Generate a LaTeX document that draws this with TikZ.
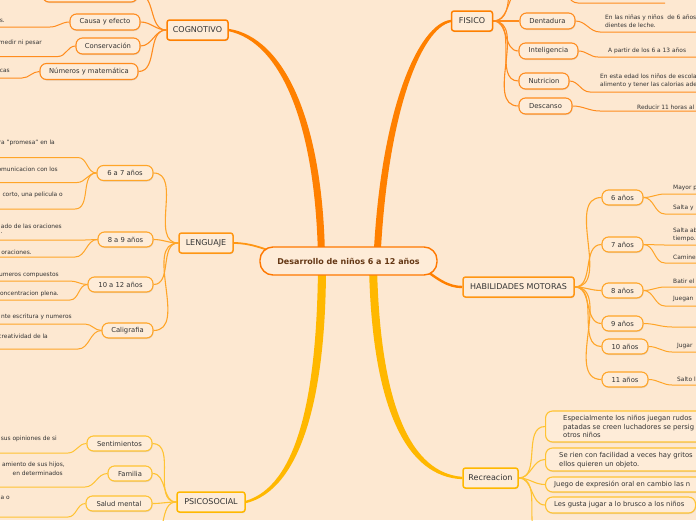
\documentclass[tikz,border=0pt]{standalone}
\usepackage{fontspec}
\setmainfont{DejaVu Sans}
\usetikzlibrary{shadows}
\pgfdeclarelayer{bglayer}
\pgfdeclarelayer{edgelayer}
\pgfsetlayers{bglayer,edgelayer,main}
\definecolor{bgc}{RGB}{253,232,209}
\definecolor{boxfill}{RGB}{254,236,216}
\definecolor{txt}{RGB}{51,51,51}
\definecolor{ctxt}{RGB}{100,55,20}
\definecolor{corange}{RGB}{255,120,0}
\definecolor{o1}{RGB}{255,128,0}
\definecolor{o2}{RGB}{255,140,30}
\definecolor{o3}{RGB}{255,150,20}
\definecolor{o4}{RGB}{255,165,40}
\definecolor{y1}{RGB}{255,184,0}
\definecolor{y2}{RGB}{255,195,50}
\begin{document}
\begin{tikzpicture}[x=1pt,y=-1pt,
  shad/.style={drop shadow={shadow xshift=0.5pt, shadow yshift=-1pt, opacity=0.22}},
  central/.style={draw=corange, line width=1.4pt, rounded corners=13pt, fill=boxfill, text=ctxt,
    font=\fontsize{8}{10}\selectfont\bfseries, minimum width=177pt, minimum height=28pt, inner sep=0pt},
  mainbox/.style={draw, line width=1.5pt, rounded corners=2.5pt, fill=boxfill, text=txt,
    font=\fontsize{8}{10}\selectfont, minimum height=20pt, inner sep=0pt, shad},
  subbox/.style={draw, line width=1.1pt, rounded corners=6.5pt, fill=boxfill, text=txt,
    font=\fontsize{6.8}{8}\selectfont, minimum height=15pt, inner sep=0pt, shad},
  rbox/.style={draw=y2, line width=1.1pt, rounded corners=7pt, fill=boxfill, anchor=west, inner sep=0pt, shad},
  rtext/.style={anchor=west, align=left, text=txt, font=\fontsize{6.8}{8.3}\selectfont, inner sep=0pt},
  leafL/.style={anchor=east, text=txt, font=\fontsize{5.9}{7.3}\selectfont, inner sep=0pt},
  leafR/.style={anchor=west, align=left, text=txt, font=\fontsize{5.9}{7.6}\selectfont, inner sep=0pt},
  conn/.style={line width=1.1pt},
  leafline/.style={line width=1pt}]
\useasboundingbox (0,0) rectangle (696,520);
\begin{pgfonlayer}{bglayer}
\fill[bgc] (0,0) rectangle (696,520);
\end{pgfonlayer}

% central and main nodes
\node[central] (c) at (348.5,261) {Desarrollo de niños 6 a 12 años};
\node[mainbox, draw=o1, minimum width=61pt] (cog) at (197.5,30) {COGNOTIVO};
\node[mainbox, draw=o1, minimum width=41pt] (fis) at (472,21) {FISICO};
\node[mainbox, draw=o3, minimum width=54pt] (len) at (206,243) {LENGUAJE};
\node[mainbox, draw=o3, minimum width=111pt] (hab) at (518.5,287) {HABILIDADES MOTORAS};
\node[mainbox, draw=y1, minimum width=68pt] (psi) at (211,502) {PSICOSOCIAL};
\node[mainbox, draw=y1, minimum width=55pt] (rec) at (490.5,478) {Recreacion};

% COGNOTIVO children
\node[subbox, draw=o2, minimum width=95pt, minimum height=16pt] (cogtop) at (90,-6) {};
\node[subbox, draw=o2, minimum width=70pt, minimum height=16pt] (causa) at (105,22) {Causa y efecto};
\node[subbox, draw=o2, minimum width=64pt, minimum height=16pt] (cons) at (108,46) {Conservación};
\node[subbox, draw=o2, minimum width=98pt, minimum height=16pt] (num) at (89,71.5) {Números y matemática};
\node[leafL] (l1) at (5,21) {s.};
\node[leafL] (l2) at (42,43) {medir ni pesar};
\node[leafL] (l3) at (10,71) {cas};

% LENGUAJE children
\node[subbox, draw=o4, minimum width=56pt] (l67) at (125,173) {6 a 7 años};
\node[subbox, draw=o4, minimum width=55pt] (l89) at (125.5,239.5) {8 a 9 años};
\node[subbox, draw=o4, minimum width=65pt] (l1012) at (120.5,284.5) {10 a 12 años};
\node[subbox, draw=o4, minimum width=51pt] (cali) at (127.5,330.5) {Caligrafia};
\node[leafL] (t1) at (55,143) {ra "promesa" en la};
\node[leafL] (t2) at (58,169) {omunicacion con los};
\node[leafL] (t3) at (63,195) {corto, una pelicula o};
\node[leafL] (t4) at (62,226) {ado de las oraciones};
\node[leafL] (t4b) at (3,233) {.};
\node[leafL] (t5) at (32,252) {oraciones.};
\node[leafL] (t6) at (59,275) {umeros compuestos};
\node[leafL] (t7) at (59,294) {oncentracion plena.};
\node[leafL] (t8) at (72,317) {nte escritura y numeros};
\node[leafL] (t9) at (48,336) {creatividad de la};

% PSICOSOCIAL children
\node[subbox, draw=y2, minimum width=65pt] (sent) at (119.5,443.5) {Sentimientos};
\node[subbox, draw=y2, minimum width=44pt] (fam) at (130,473.5) {Familia};
\node[subbox, draw=y2, minimum width=66pt] (salud) at (119,503.5) {Salud mental};
\node[leafL] (p1) at (57,439) {sus opiniones de si};
\node[leafL] (p2) at (65,465) {amiento de sus hijos,};
\node[leafL] (p3) at (63,473) {en determinados};
\node[leafL] (p4) at (10,498) {a o};
\coordinate (psiD) at (150,540);

% FISICO children
\coordinate (fisA) at (525,-14);
\coordinate (fisB) at (525,-45);
\coordinate (fisAe) at (556,-12);
\node[subbox, draw=o2, minimum width=55pt, minimum height=16pt] (dent) at (547.5,21) {Dentadura};
\node[subbox, draw=o2, minimum width=59pt, minimum height=16pt] (intel) at (548.5,51) {Inteligencia};
\node[subbox, draw=o2, minimum width=50pt, minimum height=16pt] (nutr) at (544,81) {Nutricion};
\node[subbox, draw=o2, minimum width=53pt, minimum height=16pt] (desc) at (545.5,106) {Descanso};
\node[leafR] (f1) at (605,21.5) {En las niñas y niños \ de 6 años\\dientes de leche.};
\node[leafR] (f2) at (608,51) {A partir de los 6 a 13 años};
\node[leafR] (f3) at (600,81) {En esta edad los niños de escola\\alimento y tener las calorias ade};
\node[leafR] (f4) at (637,107) {Reducir 11 horas al};

% HABILIDADES children
\node[subbox, draw=o4, minimum width=41pt] (h6) at (622.5,197.5) {6 años};
\node[subbox, draw=o4, minimum width=41pt] (h7) at (622.5,244.5) {7 años};
\node[subbox, draw=o4, minimum width=41pt] (h8) at (622.5,290.5) {8 años};
\node[subbox, draw=o4, minimum width=41pt] (h9) at (622.5,323.5) {9 años};
\node[subbox, draw=o4, minimum width=46pt] (h10) at (625,346.5) {10 años};
\node[subbox, draw=o4, minimum width=46pt] (h11) at (625,379.5) {11 años};
\node[leafR] (m1) at (673,188) {Mayor p};
\node[leafR] (m2) at (673,208) {Salta y};
\node[leafR] (m3) at (673,235) {Salta ab\\tiempo.};
\node[leafR] (m4) at (673,257) {Camine};
\node[leafR] (m5) at (673,281) {Batir el};
\node[leafR] (m6) at (673,299) {Juegan};
\node[leafR] (m7) at (677,346) {Jugar};
\node[leafR] (m8) at (677,379) {Salto l};

% Recreacion children
\node[rbox, minimum width=170pt, minimum height=31pt] (r1) at (545,426.5) {};
\node[rtext] (r1t) at (563,426.5) {Especialmente los niños juegan rudos\\patadas se creen luchadores se persig\\otros niños};
\node[rbox, minimum width=170pt, minimum height=23pt] (r2) at (545,459.5) {};
\node[rtext] (r2t) at (559,460) {Se rien con facilidad a veces hay gritos\\ellos quieren un objeto.};
\node[rbox, minimum width=170pt, minimum height=15pt] (r3) at (545,484.5) {};
\node[rtext] (r3t) at (554,484.5) {Juego de expresión oral en cambio las n};
\node[rbox, minimum width=150pt, minimum height=16pt] (r4) at (545,505) {};
\node[rtext] (r4t) at (554,505) {Les gusta jugar a lo brusco a los niños};
\coordinate (recE) at (545,540);

\begin{pgfonlayer}{edgelayer}
% main branches
\fill[o1] ([yshift=1.2pt]cog.east) .. controls (284,37.5) and (323,120) .. (325,258) -- (318,258) .. controls (315.5,122) and (280,42) .. ([yshift=-1.2pt]cog.east) -- cycle;
\fill[o1] ([yshift=1.2pt]fis.west) .. controls (418,24) and (380.5,110) .. (373.5,258) -- (380.5,258) .. controls (387.5,110) and (422,28) .. ([yshift=-1.2pt]fis.west) -- cycle;
\fill[y1] (318,266) .. controls (317,400) and (296,486) .. ([yshift=1.2pt]psi.east) -- ([yshift=-1.2pt]psi.east) .. controls (300,490) and (326,400) .. (326,266) -- cycle;
\fill[y1] (369,266) .. controls (372,412) and (408,477) .. ([yshift=-1.2pt]rec.west) -- ([yshift=1.2pt]rec.west) .. controls (412,473) and (380,408) .. (377,266) -- cycle;
\draw[o3, line width=1.8pt] (len.east) .. controls (250,243) and (262,248) .. (285,256);
\draw[o1, line width=2.4pt] (415,262) .. controls (438,280) and (448,287) .. (hab.west);

% COGNOTIVO connectors
\foreach \n in {cogtop,causa,cons,num} \draw[conn,o2] (cog.west) to[out=180,in=0] (\n.east);
\draw[leafline,o2] (causa.west) to[out=180,in=0] (50,27) -- (0,27);
\draw[leafline,o2] (cons.west) to[out=180,in=0] (58,56.5) -- (0,56.5);
\draw[leafline,o2] (num.west) to[out=180,in=0] (22,78) -- (0,78);

% LENGUAJE connectors
\foreach \n in {l67,l89,l1012,cali} \draw[conn,o4] (len.west) to[out=180,in=0] (\n.east);
\draw[leafline,o4] (l67.west) to[out=180,in=0] (78,157.5) -- (0,157.5);
\draw[leafline,o4] (l67.west) to[out=180,in=0] (77,182.5) -- (0,182.5);
\draw[leafline,o4] (l67.west) to[out=180,in=0] (75,209) -- (0,209);
\draw[leafline,o4] (l89.west) to[out=180,in=0] (85,240) -- (0,240);
\draw[leafline,o4] (l89.west) to[out=180,in=0] (75,257) -- (0,257);
\draw[leafline,o4] (l1012.west) to[out=180,in=0] (70,281) -- (0,281);
\draw[leafline,o4] (l1012.west) to[out=180,in=0] (70,300) -- (0,300);
\draw[leafline,o4] (cali.west) to[out=180,in=0] (85,324) -- (0,324);
\draw[leafline,o4] (cali.west) to[out=180,in=0] (78,349) -- (0,349);

% PSICOSOCIAL connectors
\foreach \n in {sent,fam,salud} \draw[conn,y2] (psi.west) to[out=180,in=0] (\n.east);
\draw[conn,y2] (psi.west) to[out=180,in=0] (psiD);
\draw[leafline,y2] (sent.west) to[out=180,in=0] (68,453) -- (0,453);
\draw[leafline,y2] (fam.west) to[out=180,in=0] (85,487) -- (0,487);
\draw[leafline,y2] (salud.west) to[out=180,in=0] (68,517) -- (0,517);

% FISICO connectors
\foreach \n in {dent,intel,nutr,desc} \draw[conn,o2] (fis.east) to[out=0,in=180] (\n.west);
\draw[conn,o2] (fis.east) to[out=0,in=180] (fisA);
\draw[conn,o2] (fis.east) to[out=0,in=180] (fisB);
\draw[leafline,o2] (fisAe) to[out=0,in=180] (578,3) -- (665,3);
\draw[leafline,o2] (dent.east) to[out=0,in=180] (600,32) -- (700,32);
\draw[leafline,o2] (intel.east) to[out=0,in=180] (598,57) -- (700,57);
\draw[leafline,o2] (nutr.east) to[out=0,in=180] (590,92) -- (700,92);
\draw[leafline,o2] (desc.east) to[out=0,in=180] (600,111) -- (700,111);

% HABILIDADES connectors
\foreach \n in {h6,h7,h8,h9,h10,h11} \draw[conn,o4] (hab.east) to[out=0,in=180] (\n.west);
\draw[leafline,o4] (h6.east) to[out=0,in=180] (665,194) -- (700,194);
\draw[leafline,o4] (h6.east) to[out=0,in=180] (665,214) -- (700,214);
\draw[leafline,o4] (h7.east) to[out=0,in=180] (665,245) -- (700,245);
\draw[leafline,o4] (h7.east) to[out=0,in=180] (665,263) -- (700,263);
\draw[leafline,o4] (h8.east) to[out=0,in=180] (665,287) -- (700,287);
\draw[leafline,o4] (h8.east) to[out=0,in=180] (665,306) -- (700,306);
\draw[leafline,o4] (h9.east) to[out=0,in=180] (672,327) -- (700,327);
\draw[leafline,o4] (h10.east) to[out=0,in=180] (672,352) -- (700,352);
\draw[leafline,o4] (h11.east) to[out=0,in=180] (672,385) -- (700,385);

% Recreacion connectors
\foreach \n in {r1,r2,r3,r4} \draw[conn,y2] (rec.east) to[out=0,in=180] (\n.west);
\draw[conn,y2] (rec.east) to[out=0,in=180] (recE);
\end{pgfonlayer}
\end{tikzpicture}
\end{document}
